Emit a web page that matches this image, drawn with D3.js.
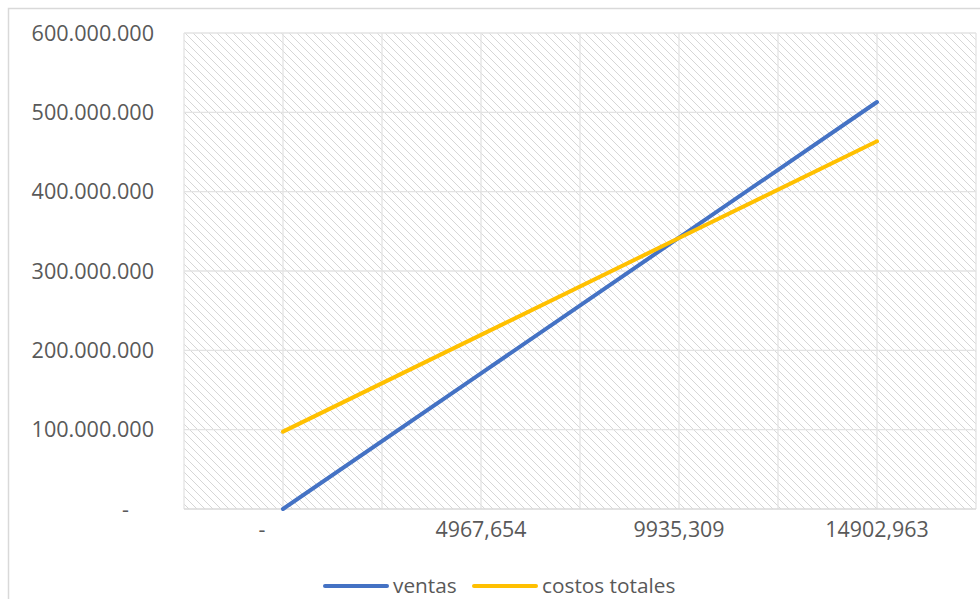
<!DOCTYPE html>
<html lang="es">
<head>
    <meta charset="UTF-8">
    <title>Punto de equilibrio</title>
    <script src="https://d3js.org/d3.v7.min.js"></script>
    <style>
        body { margin: 0; background: #fff; }
        .chart text { font-family: "Open Sans", sans-serif; fill: #595959; }
    </style>
</head>
<body>
    <div class="chart"></div>

    <script>
        // unidades (eje x) y etiquetas
        const unidades = [0, 4967.654, 9935.309, 14902.963];
        const etiquetasX = ["-", "4967,654", "9935,309", "14902,963"];
        // series
        const ventas = [0, 171000000, 342000000, 513000000];
        const costosTotales = [97500000, 219500000, 341500000, 463500000];
        const ticksY = [0, 100000000, 200000000, 300000000, 400000000, 500000000, 600000000];

        const svgWidth = 980;
        const svgHeight = 599;
        const plot = { left: 184, top: 33, right: 976, bottom: 509 };
        const paso = unidades[1] / 2;

        const svg = d3.select('.chart')
            .append('svg')
            .attr('width', svgWidth)
            .attr('height', svgHeight);

        // hatch pattern
        const pat = svg.append('defs').append('pattern')
            .attr('id', 'hatch')
            .attr('patternUnits', 'userSpaceOnUse')
            .attr('width', 8).attr('height', 8);
        pat.append('path')
            .attr('d', 'M-2,-2 L10,10 M-2,6 L2,10 M6,-2 L10,2')
            .attr('stroke', '#d6d6d6')
            .attr('stroke-width', 1);

        // outer border
        svg.append('rect')
            .attr('x', 8.5).attr('y', 8.5)
            .attr('width', 990).attr('height', 600)
            .attr('fill', 'none')
            .attr('stroke', '#d9d9d9')
            .attr('stroke-width', 1.5);

        const x = d3.scaleLinear()
            .domain([-paso, unidades[3] + paso])
            .range([plot.left, plot.right]);

        const y = d3.scaleLinear()
            .domain([0, 600000000])
            .range([plot.bottom, plot.top]);

        svg.append('rect')
            .attr('x', plot.left).attr('y', plot.top)
            .attr('width', plot.right - plot.left)
            .attr('height', plot.bottom - plot.top)
            .attr('fill', 'url(#hatch)');

        // gridlines
        const gridX = d3.range(-1, 8).map(i => i * paso);
        svg.append('g')
            .selectAll('line')
            .data(gridX)
            .enter().append('line')
            .attr('x1', d => x(d)).attr('x2', d => x(d))
            .attr('y1', plot.top).attr('y2', plot.bottom)
            .attr('stroke', '#e3e3e3')
            .attr('stroke-width', 1.3);

        svg.append('g')
            .selectAll('line')
            .data(ticksY)
            .enter().append('line')
            .attr('x1', plot.left).attr('x2', plot.right)
            .attr('y1', d => y(d)).attr('y2', d => y(d))
            .attr('stroke', d => d === 0 ? '#d9d9d9' : '#e3e3e3')
            .attr('stroke-width', 1.3);

        // y labels
        const loc = d3.formatLocale({ decimal: ",", thousands: ".", grouping: [3], currency: ["", ""] });
        const fmt = loc.format(",.0f");
        svg.append('g')
            .selectAll('text')
            .data(ticksY)
            .enter().append('text')
            .attr('x', d => d === 0 ? 129 : 154)
            .attr('y', d => y(d))
            .attr('dy', '0.35em')
            .attr('text-anchor', 'end')
            .style('font-size', '21.6px')
            .text(d => d === 0 ? '-' : fmt(d));

        // x labels
        svg.append('g')
            .selectAll('text')
            .data(unidades)
            .enter().append('text')
            .attr('x', (d, i) => i === 0 ? x(d) - 21 : x(d))
            .attr('y', 537)
            .attr('text-anchor', 'middle')
            .style('font-size', '21.4px')
            .text((d, i) => etiquetasX[i]);

        // lines
        const series = [
            { name: 'ventas', values: ventas, color: '#4472C4' },
            { name: 'costos totales', values: costosTotales, color: '#FFC000' }
        ];
        const line = d3.line()
            .x((d, i) => x(unidades[i]))
            .y(d => y(d));

        svg.selectAll('.serie')
            .data(series)
            .enter().append('path')
            .attr('fill', 'none')
            .attr('stroke', d => d.color)
            .attr('stroke-width', 4)
            .attr('stroke-linecap', 'round')
            .attr('d', d => line(d.values));

        // legend
        const legend = [
            { name: 'ventas', color: '#4472C4', x: 325 },
            { name: 'costos totales', color: '#FFC000', x: 474 }
        ];
        const lg = svg.append('g').selectAll('g')
            .data(legend)
            .enter().append('g');
        lg.append('line')
            .attr('x1', d => d.x).attr('x2', d => d.x + 62)
            .attr('y1', 586).attr('y2', 586)
            .attr('stroke', d => d.color)
            .attr('stroke-width', 4)
            .attr('stroke-linecap', 'round');
        lg.append('text')
            .attr('x', d => d.x + 68)
            .attr('y', 586)
            .attr('dy', '0.35em')
            .style('font-size', '20.8px')
            .text(d => d.name);
    </script>
</body>
</html>
